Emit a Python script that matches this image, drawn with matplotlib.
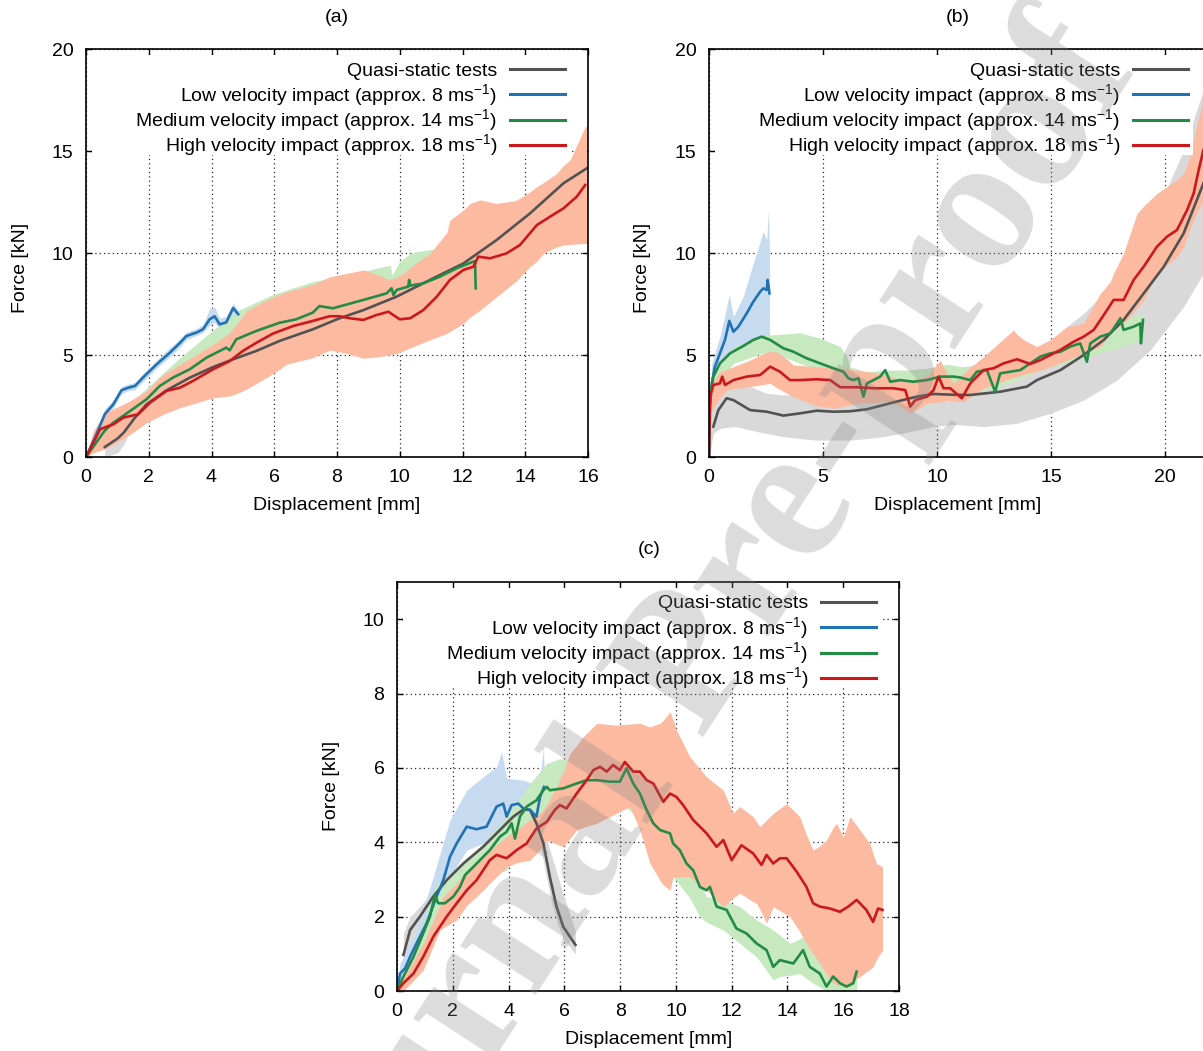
import matplotlib
matplotlib.use('Agg')
import matplotlib.pyplot as plt
from matplotlib.patches import Rectangle

plt.rcParams['font.family'] = ['Liberation Sans', 'DejaVu Sans']
plt.rcParams['mathtext.fontset'] = 'custom'
plt.rcParams['mathtext.rm'] = 'Liberation Sans'
plt.rcParams['mathtext.it'] = 'Liberation Sans:italic'
plt.rcParams['mathtext.bf'] = 'Liberation Sans:bold'

# ---------------- labels ----------------
series_labels = ['Quasi-static tests',
                 r'Low velocity impact (approx. 8 ms$^{-1}$)',
                 r'Medium velocity impact (approx. 14 ms$^{-1}$)',
                 r'High velocity impact (approx. 18 ms$^{-1}$)']
panel_titles = ['(a)', '(b)', '(c)']
x_label = 'Displacement [mm]'
y_label = 'Force [kN]'
watermark = 'Journal Pre-proof'

# ---------------- panel (a) ----------------
a_qs_x = [0.6, 1.0, 1.2, 1.56, 1.93, 2.57, 3.31, 4.05, 4.69, 5.43, 6.17, 7.23, 8.08, 8.84, 9.9, 10.96, 12.03, 13.09, 14.15, 15.22, 15.96]
a_qs_y = [0.49, 0.9, 1.19, 1.93, 2.58, 3.27, 3.89, 4.41, 4.79, 5.2, 5.69, 6.26, 6.8, 7.2, 7.86, 8.68, 9.49, 10.64, 11.94, 13.42, 14.15]
a_qs_lo = [0.0, 0.2, 0.6, 1.8, 2.5, 3.2, 3.8, 4.33, 4.72, 5.12, 5.6, 6.18, 6.72, 7.12, 7.78, 8.6, 9.4, 10.55, 11.85, 13.33, 14.05]
a_qs_hi = [0.55, 0.95, 1.25, 2.05, 2.66, 3.35, 3.97, 4.49, 4.86, 5.28, 5.77, 6.34, 6.88, 7.28, 7.94, 8.76, 9.57, 10.72, 12.02, 13.5, 14.25]

a_lv_x = [0, 0.3, 0.6, 0.87, 1.13, 1.35, 1.56, 1.82, 2.25, 2.67, 3.0, 3.2, 3.52, 3.73, 3.94, 4.1, 4.26, 4.47, 4.69, 4.85]
a_lv_y = [0, 1.0, 2.1, 2.58, 3.27, 3.4, 3.48, 3.9, 4.54, 5.11, 5.6, 5.93, 6.1, 6.26, 6.75, 6.9, 6.5, 6.6, 7.3, 7.0]
a_lv_lo = [0, 0.85, 1.9, 2.4, 3.1, 3.25, 3.3, 3.7, 4.35, 4.9, 5.4, 5.75, 5.95, 6.1, 6.45, 6.6, 6.3, 6.4, 7.0, 6.8]
a_lv_hi = [0, 1.2, 2.35, 2.8, 3.45, 3.58, 3.65, 4.1, 4.75, 5.35, 5.8, 6.12, 6.3, 6.5, 7.25, 7.35, 6.8, 6.9, 7.55, 7.2]

a_mv_x = [0, 0.3, 0.6, 0.87, 1.4, 1.93, 2.35, 2.78, 3.31, 3.84, 4.47, 4.58, 4.79, 5.43, 6.17, 6.7, 7.23, 7.44, 7.87, 8.84, 9.58, 9.74, 9.8, 9.9, 10.27, 10.3, 10.33, 10.75, 11.28, 11.81, 12.35, 12.4, 12.42]
a_mv_y = [0, 0.65, 1.3, 1.68, 2.25, 2.83, 3.48, 3.9, 4.3, 4.87, 5.36, 5.23, 5.77, 6.18, 6.58, 6.75, 7.08, 7.4, 7.29, 7.7, 8.02, 8.27, 7.94, 8.19, 8.35, 8.68, 8.4, 8.51, 8.84, 9.25, 9.58, 9.6, 8.27]
a_mv_bx = [0, 0.6, 1.0, 1.6, 2.2, 3.0, 3.8, 4.8, 5.96, 7.23, 7.78, 8.5, 9.37, 9.7, 9.75, 10.0, 10.28, 10.3, 10.32, 10.54, 11.28, 12.0, 12.43]
a_mv_hi = [0, 1.5, 2.0, 2.9, 3.75, 4.87, 5.9, 7.15, 7.97, 8.6, 8.75, 8.95, 9.3, 9.4, 8.9, 9.6, 9.9, 10.4, 9.95, 10.07, 10.23, 10.4, 10.5]
a_mv_lo = [0, 1.1, 1.5, 2.0, 2.6, 3.4, 4.2, 5.2, 5.9, 6.6, 6.95, 7.3, 7.6, 7.7, 7.6, 7.8, 7.95, 8.0, 8.0, 8.1, 8.45, 8.85, 9.0]

a_hv_x = [0, 0.2, 0.45, 0.6, 0.87, 1.19, 1.5, 1.66, 2.04, 2.57, 3.0, 3.41, 4.05, 4.58, 5.0, 5.43, 5.96, 6.6, 7.23, 7.76, 8.08, 8.41, 8.84, 9.26, 9.64, 10.0, 10.33, 10.75, 11.18, 11.6, 12.03, 12.35, 12.5, 12.88, 13.4, 13.83, 14.37, 14.79, 15.22, 15.64, 15.91]
a_hv_y = [0, 0.6, 1.36, 1.45, 1.6, 1.93, 2.04, 2.09, 2.66, 3.24, 3.4, 3.73, 4.3, 4.7, 5.2, 5.6, 6.05, 6.42, 6.67, 6.9, 6.9, 6.8, 6.72, 6.96, 7.12, 6.75, 6.8, 7.2, 7.86, 8.68, 9.17, 9.33, 9.82, 9.74, 9.98, 10.39, 11.37, 11.78, 12.19, 12.76, 13.33]
a_hv_bx = [0, 0.23, 0.6, 0.87, 1.4, 1.93, 2.46, 3.0, 4.05, 4.58, 4.79, 5.11, 5.75, 6.17, 6.38, 7.23, 7.78, 8.31, 8.84, 9.37, 9.64, 9.9, 10.1, 10.43, 10.96, 11.5, 11.6, 12.03, 12.24, 12.56, 13.09, 13.62, 13.73, 14.15, 14.37, 14.58, 15.0, 15.22, 15.43, 15.91, 15.96]
a_hv_hi = [0, 1.27, 2.17, 2.35, 2.75, 3.24, 4.05, 4.54, 5.52, 6.1, 6.5, 7.16, 7.7, 7.97, 8.1, 8.46, 8.84, 9.0, 9.17, 8.9, 8.68, 8.8, 9.0, 9.4, 9.98, 11.0, 11.62, 12.1, 12.43, 12.6, 12.43, 12.55, 12.6, 13.0, 13.25, 13.45, 13.9, 14.3, 14.56, 16.19, 16.2]
a_hv_lo = [0, 0.2, 0.4, 0.62, 1.1, 1.68, 2.09, 2.42, 2.9, 2.99, 3.1, 3.32, 3.89, 4.3, 4.54, 4.87, 5.24, 5.08, 4.84, 4.92, 5.0, 5.08, 5.2, 5.41, 5.74, 6.06, 6.15, 6.55, 6.85, 7.2, 7.86, 8.51, 8.65, 9.33, 9.6, 9.98, 10.3, 10.39, 10.42, 10.47, 10.45]

# ---------------- panel (b) ----------------
b_qs_x = [0.19, 0.41, 0.77, 1.07, 1.8, 2.53, 3.26, 3.99, 4.72, 5.45, 6.18, 6.92, 7.65, 8.38, 9.11, 9.84, 10.72, 11.45, 12.76, 13.93, 14.37, 15.4, 16.42, 17.3, 18.17, 19.05, 19.93, 20.8, 21.67]
b_qs_y = [1.49, 2.3, 2.88, 2.79, 2.3, 2.22, 2.03, 2.14, 2.27, 2.22, 2.24, 2.34, 2.55, 2.76, 2.96, 3.09, 3.05, 3.04, 3.2, 3.45, 3.77, 4.26, 5.0, 5.74, 6.72, 8.02, 9.33, 10.96, 13.42]
b_qs_bx = [0.0, 0.19, 0.48, 0.77, 1.07, 1.36, 1.8, 2.53, 3.26, 3.99, 4.72, 5.45, 6.18, 6.92, 7.65, 8.38, 9.11, 9.84, 10.72, 12.03, 13.5, 14.96, 16.42, 17.88, 19.34, 20.8, 21.67]
b_qs_hi = [1.5, 3.6, 3.77, 3.77, 3.7, 3.6, 3.45, 3.12, 3.04, 3.04, 3.1, 3.12, 3.2, 3.28, 3.5, 3.77, 3.95, 4.1, 4.35, 4.59, 4.92, 5.74, 7.04, 8.68, 11.29, 15.05, 18.0]
b_qs_lo = [0.0, 1.16, 1.4, 1.45, 1.49, 1.45, 1.32, 1.15, 1.0, 0.9, 0.83, 0.83, 0.83, 0.9, 1.0, 1.15, 1.32, 1.5, 1.6, 1.49, 1.65, 2.14, 2.79, 3.77, 5.25, 7.37, 9.0]

b_lv_x = [0, 0.05, 0.12, 0.26, 0.48, 0.7, 0.89, 1.07, 1.29, 1.65, 1.94, 2.24, 2.38, 2.53, 2.57, 2.65]
b_lv_y = [0, 2.5, 3.6, 4.43, 5.08, 5.74, 6.67, 6.14, 6.39, 7.04, 7.61, 8.1, 8.27, 8.19, 8.68, 8.02]
b_lv_bx = [0, 0.12, 0.48, 0.89, 1.07, 1.5, 1.94, 2.38, 2.53, 2.6, 2.65]
b_lv_hi = [0, 4.6, 5.9, 7.94, 6.88, 7.86, 9.49, 11.05, 10.64, 12.1, 10.1]
b_lv_lo = [0, 2.3, 4.26, 4.7, 4.92, 5.4, 5.57, 5.25, 5.2, 5.16, 5.16]

b_mv_x = [0, 0.04, 0.19, 0.48, 0.92, 1.5, 1.94, 2.31, 2.68, 3.26, 3.7, 4.28, 4.87, 5.45, 5.89, 6.11, 6.33, 6.55, 6.77, 6.92, 7.21, 7.5, 7.72, 7.94, 8.38, 8.96, 9.55, 10.13, 10.72, 11.0, 11.45, 11.74, 12.18, 12.54, 12.76, 13.2, 13.64, 14.08, 14.52, 14.96, 15.4, 15.83, 16.27, 16.56, 16.71, 17.15, 17.59, 18.03, 18.17, 18.61, 18.9, 18.93, 19.02]
b_mv_y = [0, 2.96, 3.94, 4.59, 5.08, 5.44, 5.74, 5.9, 5.74, 5.33, 5.16, 4.84, 4.59, 4.35, 4.18, 3.86, 3.77, 3.86, 2.96, 3.61, 3.77, 3.94, 4.26, 3.69, 3.77, 3.69, 3.77, 3.94, 3.94, 3.9, 3.77, 4.18, 4.26, 3.2, 4.1, 4.18, 4.26, 4.59, 4.92, 5.08, 5.16, 5.41, 5.57, 4.67, 5.57, 5.9, 6.06, 6.8, 6.23, 6.39, 6.55, 5.57, 6.72]
b_mv_bx = [0, 0.19, 1.07, 2.53, 3.26, 3.99, 4.87, 5.75, 6.04, 6.18, 6.77, 6.92, 7.79, 8.67, 9.55, 10.42, 11.45, 12.76, 14.96, 17.15, 19.05]
b_mv_hi = [0, 4.26, 5.41, 5.98, 6.03, 6.09, 5.82, 5.41, 4.92, 4.43, 4.2, 4.18, 4.26, 4.26, 4.35, 4.55, 4.35, 4.75, 5.49, 6.39, 7.04]
b_mv_lo = [0, 3.28, 4.59, 5.16, 4.9, 4.59, 4.2, 3.77, 3.5, 3.28, 2.63, 2.9, 3.2, 3.25, 3.28, 3.3, 3.12, 3.45, 4.43, 5.08, 5.74]

b_hv_x = [0, 0.04, 0.19, 0.48, 0.58, 0.7, 1.07, 1.65, 2.24, 2.68, 3.11, 3.55, 3.99, 4.72, 5.31, 5.75, 6.48, 7.21, 8.08, 8.6, 8.82, 9.04, 9.55, 9.84, 10.06, 10.28, 10.57, 11.08, 11.45, 12.03, 12.47, 12.91, 13.5, 14.08, 14.52, 14.96, 15.4, 15.98, 16.42, 16.86, 17.3, 17.73, 18.17, 18.61, 19.05, 19.63, 20.07, 20.51, 20.95, 21.24, 21.46, 21.67]
b_hv_y = [0, 2.96, 3.53, 3.61, 3.94, 3.53, 3.77, 3.94, 4.02, 4.43, 4.18, 3.77, 3.77, 3.81, 3.77, 3.42, 3.42, 3.37, 3.37, 3.28, 2.47, 2.79, 2.96, 3.28, 3.94, 3.37, 3.37, 2.88, 3.61, 4.26, 4.35, 4.59, 4.79, 4.56, 4.75, 5.0, 5.25, 5.65, 5.9, 6.23, 6.96, 7.7, 7.7, 8.68, 9.33, 10.31, 10.8, 11.13, 12.1, 12.92, 14.07, 15.05]
b_hv_bx = [0, 0.04, 0.12, 0.48, 0.77, 1.07, 1.8, 2.53, 2.68, 2.97, 3.41, 3.7, 4.43, 4.72, 5.45, 5.75, 6.48, 7.5, 7.79, 8.38, 8.82, 9.55, 10.13, 10.42, 10.72, 11.15, 12.03, 13.35, 13.5, 13.8, 14.37, 14.96, 15.69, 16.42, 17.15, 17.59, 17.73, 18.17, 18.76, 19.05, 19.63, 20.51, 20.8, 21.1, 21.39, 21.67]
b_hv_hi = [0, 2.96, 3.6, 4.18, 4.3, 4.43, 4.75, 5.16, 5.16, 5.16, 4.8, 4.51, 4.45, 4.43, 4.38, 4.35, 4.26, 4.1, 4.0, 3.77, 3.77, 3.94, 4.75, 4.1, 3.61, 4.1, 4.92, 6.23, 6.0, 5.74, 5.41, 5.74, 6.39, 6.55, 8.02, 8.6, 9.0, 10.0, 11.94, 12.3, 12.92, 13.6, 13.9, 14.8, 16.36, 17.5]
b_hv_lo = [0, 2.0, 2.3, 2.9, 3.28, 3.35, 3.45, 3.58, 3.61, 3.4, 3.12, 2.95, 2.63, 2.5, 2.39, 2.45, 2.63, 2.7, 2.71, 2.5, 2.14, 2.63, 2.7, 2.79, 2.75, 2.71, 3.37, 3.9, 3.94, 4.05, 4.2, 4.43, 4.75, 5.08, 5.41, 6.06, 6.2, 6.55, 7.3, 7.7, 9.0, 9.82, 10.3, 11.29, 12.0, 12.6]

# ---------------- panel (c) ----------------
c_qs_x = [0.23, 0.47, 0.82, 1.3, 1.78, 2.38, 3.09, 3.69, 4.17, 4.53, 4.77, 5.0, 5.25, 5.48, 5.72, 5.96, 6.4]
c_qs_y = [0.97, 1.64, 2.0, 2.54, 2.98, 3.43, 3.88, 4.33, 4.69, 4.88, 4.87, 4.51, 3.97, 3.07, 2.27, 1.73, 1.24]
c_qs_hi = [1.55, 2.0, 2.27, 2.71, 3.05, 3.5, 3.95, 4.4, 4.76, 4.95, 4.95, 4.7, 4.4, 3.8, 3.2, 2.6, 1.6]
c_qs_lo = [0.74, 1.3, 1.82, 2.36, 2.9, 3.36, 3.81, 4.26, 4.62, 4.8, 4.78, 4.3, 3.5, 2.6, 1.9, 1.4, 1.0]

c_lv_x = [0, 0.11, 0.29, 0.47, 0.7, 1.06, 1.42, 1.66, 1.9, 2.14, 2.5, 2.85, 3.21, 3.45, 3.57, 3.81, 3.93, 4.11, 4.35, 4.53, 4.77, 5.0, 5.13, 5.27]
c_lv_y = [0, 0.47, 0.61, 0.92, 1.28, 1.82, 2.54, 2.98, 3.61, 3.97, 4.42, 4.35, 4.42, 4.78, 4.96, 5.04, 4.69, 5.0, 5.04, 4.91, 4.87, 4.69, 5.22, 5.49]
c_lv_bx = [0, 0.11, 0.7, 1.3, 1.9, 2.5, 3.09, 3.57, 3.75, 3.93, 4.53, 4.89, 5.13, 5.25, 5.3]
c_lv_hi = [0, 0.74, 1.64, 3.07, 4.6, 5.4, 5.76, 6.03, 6.43, 5.72, 5.67, 5.58, 5.7, 6.57, 5.4]
c_lv_lo = [0, 0.03, 0.92, 2.0, 3.07, 3.79, 3.97, 4.2, 4.3, 4.33, 4.4, 4.42, 4.6, 4.9, 5.13]

c_mv_x = [0, 0.23, 0.59, 0.94, 1.18, 1.36, 1.48, 1.72, 2.02, 2.26, 2.44, 2.74, 3.09, 3.33, 3.69, 3.93, 4.11, 4.23, 4.41, 4.65, 5.0, 5.25, 5.37, 5.48, 5.96, 6.44, 6.8, 7.16, 7.63, 7.99, 8.23, 8.47, 8.71, 8.95, 9.19, 9.43, 9.79, 9.9, 10.14, 10.38, 10.62, 10.86, 11.1, 11.22, 11.46, 11.82, 12.17, 12.53, 12.89, 13.25, 13.49, 13.73, 14.21, 14.56, 14.8, 15.16, 15.4, 15.64, 15.88, 16.12, 16.36, 16.48]
c_mv_y = [0, 0.39, 0.92, 1.55, 2.0, 2.58, 2.36, 2.36, 2.54, 2.8, 3.12, 3.34, 3.61, 3.79, 4.15, 4.28, 4.51, 4.1, 4.69, 4.96, 5.13, 5.4, 5.49, 5.4, 5.45, 5.58, 5.67, 5.67, 5.63, 5.63, 5.99, 5.58, 5.31, 4.87, 4.51, 4.33, 4.24, 3.97, 3.79, 3.43, 3.25, 2.8, 2.71, 2.8, 2.27, 2.18, 1.68, 1.55, 1.28, 1.1, 0.65, 0.83, 0.74, 1.1, 0.65, 0.47, 0.12, 0.39, 0.21, 0.12, 0.21, 0.52]
c_mv_bx = [0, 0.23, 0.94, 1.42, 2.14, 3.09, 3.93, 4.77, 5.37, 5.84, 6.2, 7.0, 8.0, 8.71, 9.19, 9.9, 10.5, 10.86, 11.1, 11.7, 12.29, 12.89, 13.49, 13.73, 14.09, 14.44, 14.56, 14.92, 15.4, 15.88, 16.48]
c_mv_hi = [0, 0.65, 1.82, 2.89, 3.25, 3.97, 4.69, 5.58, 6.12, 6.25, 6.21, 6.2, 6.2, 5.9, 5.2, 4.6, 3.16, 2.9, 2.54, 2.45, 2.27, 1.91, 1.64, 1.5, 1.28, 1.4, 1.46, 1.1, 0.65, 0.47, 0.65]
c_mv_lo = [0, 0.03, 1.01, 1.7, 2.36, 2.98, 3.25, 4.06, 4.51, 4.9, 5.0, 5.1, 5.1, 4.6, 3.34, 3.07, 2.5, 2.0, 1.85, 1.64, 1.28, 0.92, 0.3, 0.39, 0.42, 0.47, 0.4, 0.21, 0.0, 0.0, 0.0]

c_hv_x = [0, 0.23, 0.59, 0.94, 1.3, 1.78, 2.14, 2.5, 2.85, 3.33, 3.57, 3.93, 4.29, 4.65, 5.0, 5.37, 5.66, 5.84, 6.08, 6.44, 6.8, 7.04, 7.28, 7.52, 7.75, 7.99, 8.17, 8.47, 8.71, 8.95, 9.19, 9.55, 9.79, 10.02, 10.26, 10.62, 11.1, 11.46, 11.7, 12.0, 12.35, 12.77, 13.07, 13.25, 13.49, 13.73, 13.97, 14.33, 14.68, 14.92, 15.16, 15.52, 15.88, 16.18, 16.48, 16.83, 17.07, 17.25, 17.41]
c_hv_y = [0, 0.21, 0.47, 0.92, 1.46, 2.0, 2.36, 2.71, 2.98, 3.52, 3.66, 3.57, 3.79, 3.97, 4.37, 4.55, 4.87, 5.0, 4.91, 5.31, 5.67, 5.94, 6.03, 5.9, 6.08, 5.94, 6.16, 5.9, 5.9, 5.67, 5.58, 5.09, 5.31, 5.22, 5.0, 4.6, 4.24, 3.88, 4.06, 3.52, 3.92, 3.7, 3.39, 3.66, 3.43, 3.57, 3.57, 3.21, 2.8, 2.36, 2.27, 2.22, 2.13, 2.27, 2.45, 2.18, 1.86, 2.22, 2.18]
c_hv_bx = [0, 0.23, 0.94, 1.54, 1.66, 2.14, 2.5, 3.09, 3.33, 3.93, 4.29, 4.77, 5.13, 5.37, 5.72, 5.96, 6.2, 6.44, 6.68, 7.16, 7.87, 8.35, 8.71, 9.07, 9.43, 9.55, 9.79, 9.9, 10.02, 10.5, 11.1, 11.7, 12.05, 12.29, 12.77, 12.89, 13.01, 13.25, 13.49, 13.97, 14.09, 14.44, 14.68, 14.92, 15.16, 15.4, 15.64, 15.76, 16.0, 16.12, 16.24, 16.6, 16.95, 17.07, 17.19, 17.41]
c_hv_hi = [0, 0.35, 1.28, 2.3, 2.54, 2.9, 3.25, 3.65, 3.79, 4.15, 4.33, 4.6, 4.78, 5.0, 5.49, 5.9, 6.39, 6.6, 6.84, 7.2, 7.15, 7.18, 7.2, 7.1, 7.2, 7.28, 7.51, 7.3, 7.02, 6.3, 5.76, 5.4, 4.78, 4.96, 4.69, 4.55, 4.42, 4.6, 4.78, 5.04, 4.95, 4.69, 4.2, 3.79, 3.9, 4.06, 4.4, 4.51, 4.15, 4.4, 4.69, 4.33, 3.97, 3.7, 3.43, 3.34]
c_hv_lo = [0, 0.0, 0.56, 1.64, 1.7, 1.91, 2.3, 2.71, 2.9, 3.34, 3.45, 3.52, 3.8, 4.06, 3.95, 3.88, 4.1, 4.33, 4.4, 4.51, 4.78, 4.96, 4.33, 3.43, 2.98, 2.85, 2.71, 3.07, 3.07, 3.07, 2.71, 2.27, 2.5, 2.63, 2.4, 2.36, 2.2, 1.82, 2.27, 2.05, 2.0, 1.6, 1.28, 1.0, 0.74, 0.45, 0.21, 0.18, 0.13, 0.12, 0.2, 0.39, 0.58, 0.65, 0.85, 1.1]

# ---------------- styling ----------------
line_colors = ['#525252', '#2171b5', '#238b45', '#cb181d']
band_colors = ['#d9d9d9', '#c6dbef', '#c7e9c0', '#fcbba1']
FS = 14

W, H = 1203, 1051
fig = plt.figure(figsize=(W / 100, H / 100), dpi=100)


def px_axes(left, right, top, bottom):
    return [left / W, 1 - bottom / H, (right - left) / W, (bottom - top) / H]


def style(ax, xlim, ylim, xticks, yticks):
    ax.set_xlim(*xlim)
    ax.set_ylim(*ylim)
    ax.set_xticks(xticks)
    ax.set_yticks(yticks)
    ax.tick_params(direction='in', length=4, width=1, top=True, right=True,
                   labelsize=FS, colors='black')
    ax.tick_params(axis='x', pad=9)
    ax.tick_params(axis='y', pad=9)
    ax.grid(True, linestyle=(0, (1, 2.5)), linewidth=0.9, color='0.15')
    ax.set_axisbelow(True)
    for s in ax.spines.values():
        s.set_linewidth(1.2)
        s.set_zorder(6)
    ax.set_xlabel(x_label, fontsize=FS)
    ax.set_ylabel(y_label, fontsize=FS)


def draw(ax, bands, lines):
    for (bx, lo, hi), c in zip(bands, band_colors):
        ax.fill_between(bx, lo, hi, color=c, lw=0, zorder=1)
    for (x, y), c in zip(lines, line_colors):
        ax.plot(x, y, color=c, lw=1.9, zorder=3, solid_joinstyle='round')


def key(ax, box_px):
    """gnuplot-style opaque key: right-justified labels, sample lines on the right"""
    L, R, T, B = box_px
    w, h = R - L, B - T
    ax.add_patch(Rectangle((6 / w, 1 - 106 / h), (w - 6 - 18) / w, 100 / h,
                           transform=ax.transAxes, facecolor='white',
                           edgecolor='none', zorder=4, clip_on=False))
    for i, (lab, c) in enumerate(zip(series_labels, line_colors)):
        yl = 20 + 25.33 * i
        ax.plot([1 - 78 / w, 1 - 23 / w], [1 - yl / h] * 2, color=c, lw=2.2,
                transform=ax.transAxes, clip_on=False, zorder=5)
        ax.text(1 - 91 / w, 1 - (yl + 6.5) / h, lab, transform=ax.transAxes,
                ha='right', va='baseline', fontsize=FS, zorder=5)


# (a)
A = (86, 588, 49, 457)
ax_a = fig.add_axes(px_axes(*A))
draw(ax_a,
     [(a_qs_x, a_qs_lo, a_qs_hi), (a_lv_x, a_lv_lo, a_lv_hi),
      (a_mv_bx, a_mv_lo, a_mv_hi), (a_hv_bx, a_hv_lo, a_hv_hi)],
     [(a_qs_x, a_qs_y), (a_lv_x, a_lv_y), (a_mv_x, a_mv_y), (a_hv_x, a_hv_y)])
style(ax_a, (0, 16), (0, 20), range(0, 17, 2), range(0, 21, 5))
key(ax_a, A)
ax_a.xaxis.set_label_coords(0.5, -0.098)
ax_a.yaxis.set_label_coords(-0.1135, 0.463)

# (b)
B = (709, 1211, 49, 457)
ax_b = fig.add_axes(px_axes(*B))
draw(ax_b,
     [(b_qs_bx, b_qs_lo, b_qs_hi), (b_lv_bx, b_lv_lo, b_lv_hi),
      (b_mv_bx, b_mv_lo, b_mv_hi), (b_hv_bx, b_hv_lo, b_hv_hi)],
     [(b_qs_x, b_qs_y), (b_lv_x, b_lv_y), (b_mv_x, b_mv_y), (b_hv_x, b_hv_y)])
style(ax_b, (0, 22), (0, 20), range(0, 21, 5), range(0, 21, 5))
key(ax_b, B)
ax_b.xaxis.set_label_coords(0.496, -0.098)
ax_b.yaxis.set_label_coords(-0.1155, 0.463)

# (c)
C = (397, 899, 582, 991)
ax_c = fig.add_axes(px_axes(*C))
draw(ax_c,
     [(c_qs_x, c_qs_lo, c_qs_hi), (c_lv_bx, c_lv_lo, c_lv_hi),
      (c_mv_bx, c_mv_lo, c_mv_hi), (c_hv_bx, c_hv_lo, c_hv_hi)],
     [(c_qs_x, c_qs_y), (c_lv_x, c_lv_y), (c_mv_x, c_mv_y), (c_hv_x, c_hv_y)])
style(ax_c, (0, 18), (0, 11), range(0, 19, 2), range(0, 11, 2))
key(ax_c, C)
ax_c.xaxis.set_label_coords(0.502, -0.098)
ax_c.yaxis.set_label_coords(-0.1135, 0.501)

# panel titles
for (cx, cy), t in zip([(337, 17), (958, 17), (649, 550)], panel_titles):
    fig.text(cx / W, 1 - cy / H, t, ha='center', va='center', fontsize=FS)

# watermark
fig.text(690 / W, 1 - 670 / H, watermark, rotation=57, fontsize=140,
         family=['Liberation Serif', 'DejaVu Serif'], weight='bold',
         color='0.5', alpha=0.28, ha='center', va='center',
         rotation_mode='anchor', zorder=10)

fig.savefig('out.png', dpi=100)
